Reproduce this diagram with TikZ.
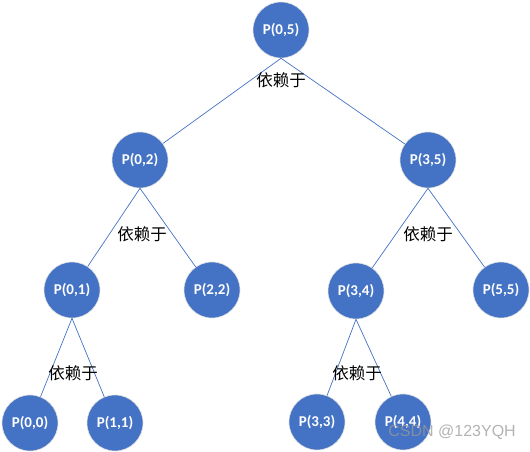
\documentclass[tikz,border=0pt]{standalone}
\usepackage{fontspec}
\setmainfont{Carlito}
\newfontfamily\cjkfont{Noto Sans CJK SC}
\newfontfamily\markfont{Liberation Sans}
\definecolor{nodeblue}{HTML}{4472C4}
\tikzset{
	pnode/.style={circle, fill=nodeblue, draw=white!75!gray, line width=0.6pt, minimum size=56pt, inner sep=0pt, text=white, font=\fontsize{15}{17}\selectfont\bfseries},
	dep/.style={font=\cjkfont\fontsize{16.5}{18}\selectfont, inner sep=0pt},
	edge/.style={draw=nodeblue, line width=0.7pt}
}

\begin{document}
\begin{tikzpicture}[x=1pt, y=1pt]
		%%%%% START %%%%%
		\useasboundingbox (0, 0) rectangle (530, 452);
		
		\node[pnode] (p05) at (281, 422) {P(0,5)};
		
		\node[pnode] (p02) at (140, 292) {P(0,2)};
		\node[pnode] (p35) at (428, 292) {P(3,5)};
		
		\node[pnode] (p01) at (72, 162) {P(0,1)};
		\node[pnode] (p22) at (212, 162) {P(2,2)};
		\node[pnode] (p34) at (356, 161) {P(3,4)};
		\node[pnode] (p55) at (501, 162) {P(5,5)};
		
		\node[pnode] (p00) at (30, 29) {P(0,0)};
		\node[pnode] (p11) at (115, 29) {P(1,1)};
		\node[pnode] (p33) at (317, 30) {P(3,3)};
		\node[pnode] (p44) at (403, 30) {P(4,4)};
		
		\draw[edge] (p05.south) -- (p02);
		\draw[edge] (p05.south) -- (p35);
		\draw[edge] (p02.south) -- (p01);
		\draw[edge] (p02.south) -- (p22);
		\draw[edge] (p35.south) -- (p34);
		\draw[edge] (p35.south) -- (p55);
		\draw[edge] (p01.south) -- (p00);
		\draw[edge] (p01.south) -- (p11);
		\draw[edge] (p34.south) -- (p33);
		\draw[edge] (p34.south) -- (p44);
		
		\node[dep] (d05) at (281, 372) {依赖于};
		\node[dep] (d02) at (142, 218) {依赖于};
		\node[dep] (d35) at (428, 218) {依赖于};
		\node[dep] (d01) at (73, 79) {依赖于};
		\node[dep] (d34) at (357, 79) {依赖于};
		
		\node[font=\markfont\fontsize{16}{18}\selectfont, text=gray!80, opacity=0.75, anchor=east, inner sep=0pt] (mark) at (516, 20) {CSDN @123YQH};
		%%%%% END %%%%%
	\end{tikzpicture}
\end{document}
